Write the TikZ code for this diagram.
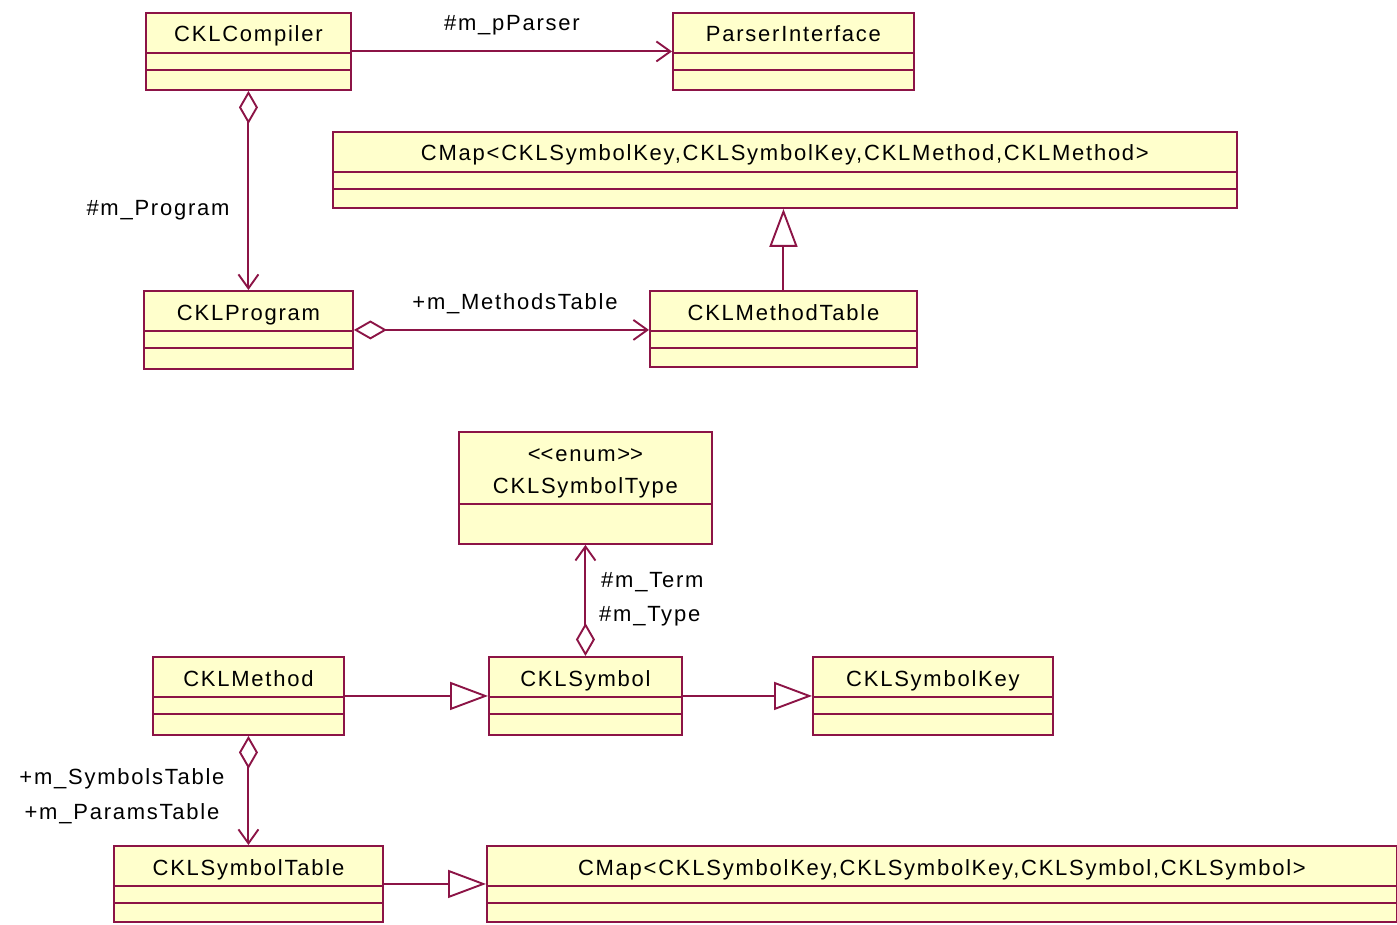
\documentclass[tikz,border=0pt]{standalone}
\usepackage{fontspec}
\setmainfont{Liberation Sans}
\newfontfamily\umlfont[LetterSpace=8]{Liberation Sans}
\usetikzlibrary{arrows.meta,calc}
\definecolor{umlborder}{RGB}{140,20,70}
\definecolor{umlfill}{RGB}{255,255,204}
\tikzset{
  cls/.style={draw=umlborder, fill=umlfill, line width=1.9pt, rectangle, inner sep=0pt, anchor=north west},
  clsline/.style={draw=umlborder, line width=1.9pt},
  lbl/.style={font=\umlfont\fontsize{22}{26}\selectfont, inner sep=0pt},
  conn/.style={draw=umlborder, line width=2pt},
  assoc/.style={conn, -{Straight Barb[length=14pt,width=20pt,line width=1.9pt]}},
  aggr/.style={conn, {Diamond[length=33pt,width=19pt,fill=white,line width=1.9pt]}-{Straight Barb[length=14pt,width=20pt,line width=1.9pt]}},
  inherit/.style={conn, -{Triangle[length=38pt,width=28pt,fill=white,line width=1.9pt]}},
}
\newcommand\umlclass[6]{%
  \node[cls, minimum width=#4-#2, minimum height=#5-#3] (#1) at (#2,#3) {};
  \node[lbl, anchor=base] (#1-t) at ($(#1.north)+(0,30)$) {#6};
  \draw[clsline] ($(#1.north west)+(0,41)$) -- ($(#1.north east)+(0,41)$);
  \draw[clsline] ($(#1.north west)+(0,58)$) -- ($(#1.north east)+(0,58)$);
}
\begin{document}
\begin{tikzpicture}[x=1pt,y=-1pt]
\useasboundingbox (0,0) rectangle (1397,925);
\umlclass{comp}{145}{12}{350}{89}{CKLCompiler}
\umlclass{parser}{672}{12}{913}{89}{ParserInterface}
\umlclass{cmapa}{332}{131}{1236}{207}{CMap<CKLSymbolKey,CKLSymbolKey,CKLMethod,CKLMethod>}
\umlclass{prog}{143}{290}{352}{368}{CKLProgram}
\umlclass{mtable}{649}{290}{916}{366}{CKLMethodTable}
\umlclass{method}{152}{656}{343}{734}{CKLMethod}
\umlclass{symbol}{488}{656}{681}{734}{CKLSymbol}
\umlclass{key}{812}{656}{1052}{734}{CKLSymbolKey}
\umlclass{symtable}{113}{845}{382}{921}{CKLSymbolTable}
\umlclass{cmapb}{486}{845}{1396}{921}{CMap<CKLSymbolKey,CKLSymbolKey,CKLSymbol,CKLSymbol>}
% enum box
\node[cls, minimum width=253, minimum height=112] (stype) at (458,431) {};
\node[lbl, anchor=base] (stype-s) at ($(stype.north)+(0,30)$) {<\kern0pt<enum>\kern0pt>};
\node[lbl, anchor=base] (stype-t) at ($(stype.north)+(0,62)$) {CKLSymbolType};
\draw[clsline] ($(stype.north west)+(0,73)$) -- ($(stype.north east)+(0,73)$);
% connectors
\draw[assoc] (comp.east) -- (parser.west);
\node[lbl] (l1) at (512,25) {\#m\_pParser};
\draw[aggr] (comp.south) -- (prog.north);
\node[lbl] (l2) at (158,210) {\#m\_Program};
\draw[aggr] (prog.east) -- (prog.east -| mtable.west);
\node[lbl] (l3) at (515,304) {+m\_MethodsTable};
\draw[inherit] (mtable.north) -- (mtable.north |- cmapa.south);
\draw[aggr] (symbol.north) -- (stype.south);
\node[lbl, anchor=west] (l4) at (601,582) {\#m\_Term};
\node[lbl, anchor=west] (l5) at (599,616) {\#m\_Type};
\draw[inherit] (method.east) -- (symbol.west);
\draw[inherit] (symbol.east) -- (key.west);
\draw[aggr] (method.south) -- (symtable.north);
\node[lbl] (l6) at (122,779) {+m\_SymbolsTable};
\node[lbl] (l7) at (122,814) {+m\_ParamsTable};
\draw[inherit] (symtable.east) -- (cmapb.west);
\end{tikzpicture}
\end{document}
